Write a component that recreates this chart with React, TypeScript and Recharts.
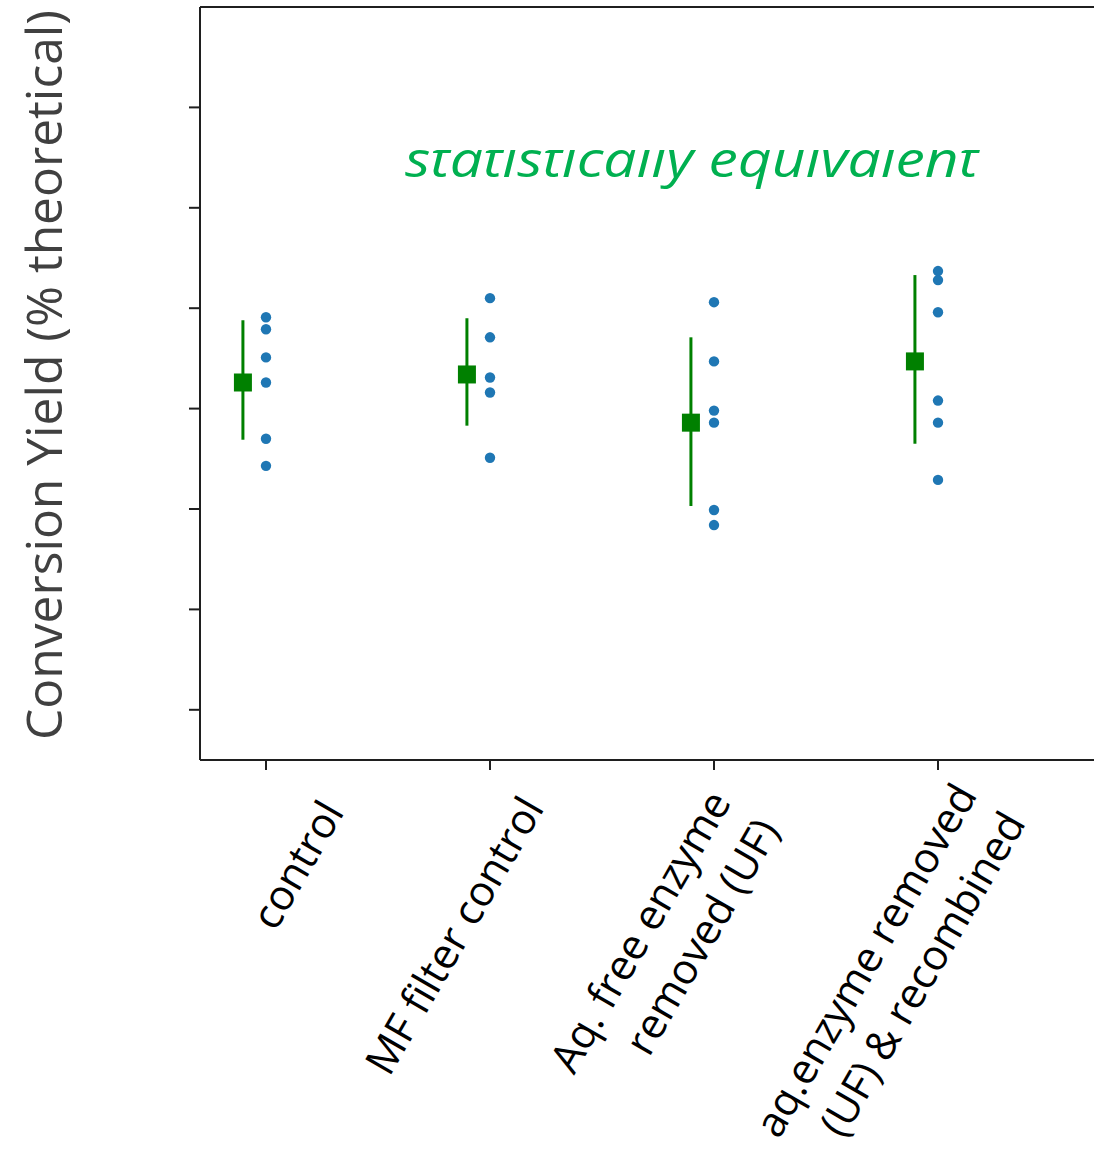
import React from "react";
import {
  ScatterChart,
  Scatter,
  XAxis,
  YAxis,
  ErrorBar,
  ReferenceLine,
} from "recharts";

// categories (label lines) and raw replicate yields
const LABEL_LINES = [
  ["control"],
  ["MF filter control"],
  ["Aq. free enzyme", "removed (UF)"],
  ["aq.enzyme removed", "(UF) & recombined"],
];

const CONTROL = [49.1, 47.9, 45.1, 42.6, 37.0, 34.3];
const MF_FILTER = [51.0, 47.1, 43.1, 41.6, 35.1];
const AQ_REMOVED = [50.6, 44.7, 39.8, 38.6, 29.9, 28.4];
const AQ_RECOMBINED = [53.7, 52.8, 49.6, 40.8, 38.6, 32.9];

const MEANS = [42.6, 43.4, 38.6, 44.7];
const CI_LOW = [36.9, 38.3, 30.3, 36.5];
const CI_HIGH = [48.8, 49.0, 47.1, 53.3];

const Y_TICKS = [10, 20, 30, 40, 50, 60, 70];
const X_TICKS = [0, 1, 2, 3];

// label anchor offsets from each tick (end of first line)
const LABEL_DX = [79, 55, 18, 40];
const LABEL_DY = [42, 38, 32, 25];

const MEAN_DODGE = 0.103;
const FONT = "'Open Sans', 'DejaVu Sans', sans-serif";
const AXIS = "#1f1f1f";

const groups = [CONTROL, MF_FILTER, AQ_REMOVED, AQ_RECOMBINED];
const points = groups.flatMap((vals, i) => vals.map((v) => ({ x: i, y: v })));
const means = MEANS.map((m, i) => ({
  x: i - MEAN_DODGE,
  y: m,
  err: [m - CI_LOW[i], CI_HIGH[i] - m],
}));

function Dot(props: any) {
  const { cx, cy } = props;
  if (cx == null || cy == null) return null;
  return <circle cx={cx} cy={cy} r={5.2} fill="#1f77b4" />;
}

function MeanSquare(props: any) {
  const { cx, cy } = props;
  if (cx == null || cy == null) return null;
  return <rect x={cx - 9} y={cy - 9} width={18} height={18} fill="#008000" />;
}

function CategoryTick(props: any) {
  const { x, y, payload } = props;
  const i = X_TICKS.indexOf(payload.value);
  if (i < 0) return null;
  const lines = LABEL_LINES[i];
  return (
    <g transform={`translate(${x + LABEL_DX[i]},${y + LABEL_DY[i]}) rotate(-60)`}>
      <text textAnchor="end" fontFamily={FONT} fontSize={42} fill="#000">
        {lines.map((l, k) => (
          <tspan key={k} x={0} dy={k === 0 ? 0 : 56}>
            {l}
          </tspan>
        ))}
      </text>
    </g>
  );
}

function YLabel() {
  return (
    <text
      x={62}
      y={375}
      transform="rotate(-90 62 375)"
      textAnchor="middle"
      fontFamily={FONT}
      fontSize={50}
      fill="#404040"
      textLength={730}
      lengthAdjust="spacingAndGlyphs"
    >
      Conversion Yield (% theoretical)
    </text>
  );
}

export default function App() {
  return (
    <div style={{ position: "absolute", left: 0, top: 0, width: 1094, height: 1151, background: "#fff" }}>
      <ScatterChart
        width={1094}
        height={1151}
        margin={{ top: 7, right: 0, left: 150, bottom: 0 }}
      >
        <XAxis
          type="number"
          dataKey="x"
          domain={[-0.2946, 3.6964]}
          ticks={X_TICKS}
          allowDataOverflow
          height={391}
          tickSize={10}
          tickMargin={0}
          axisLine={{ stroke: AXIS, strokeWidth: 2 }}
          tickLine={{ stroke: AXIS, strokeWidth: 2 }}
          tick={<CategoryTick />}
          interval={0}
        />
        <YAxis
          type="number"
          dataKey="y"
          domain={[5, 80]}
          ticks={Y_TICKS}
          width={50}
          tickSize={11}
          axisLine={{ stroke: AXIS, strokeWidth: 2 }}
          tickLine={{ stroke: AXIS, strokeWidth: 2 }}
          tickFormatter={() => ""}
          label={{ content: () => <YLabel /> }}
        />
        <ReferenceLine y={80} stroke={AXIS} strokeWidth={2} ifOverflow="extendDomain" />
        <Scatter data={points} shape={<Dot />} isAnimationActive={false} />
        <Scatter data={means} shape={<MeanSquare />} isAnimationActive={false}>
          <ErrorBar dataKey="err" direction="y" width={0} stroke="#008000" strokeWidth={3} />
        </Scatter>
      </ScatterChart>
      <svg
        width={1094}
        height={1151}
        style={{ position: "absolute", left: 0, top: 0, pointerEvents: "none" }}
      >
        <defs>
          <clipPath id="annClip">
            <rect x={380} y={150} width={640} height={80} />
          </clipPath>
        </defs>
        <text
          x={405}
          y={177}
          clipPath="url(#annClip)"
          fontFamily={FONT}
          fontStyle="italic"
          fontSize={50}
          fill="#00b050"
          textLength={573}
          lengthAdjust="spacingAndGlyphs"
        >
          statistically equivalent
        </text>
      </svg>
    </div>
  );
}
